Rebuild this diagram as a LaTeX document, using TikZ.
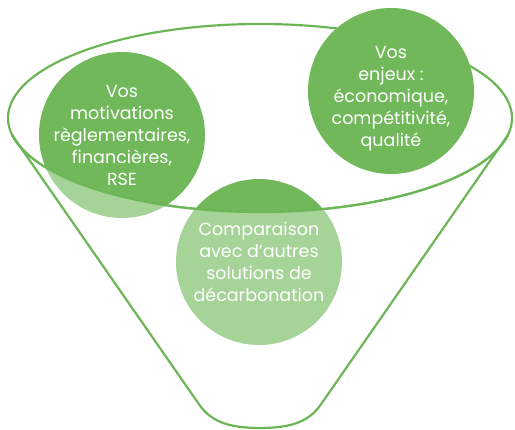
\documentclass[tikz,border=0pt]{standalone}
\usepackage{fontspec}
\setmainfont{Poppins}
\definecolor{dkgreen}{HTML}{70B85A}
\definecolor{lngreen}{HTML}{6DB657}
\begin{document}
\begin{tikzpicture}[x=1pt,y=-1pt,
  bubble/.style={circle, fill=dkgreen, minimum size=166pt, inner sep=0pt},
  btext/.style={text=white, align=center, font=\fontsize{17.5}{22}\selectfont},
  rim/.style={draw=lngreen, line width=2.2pt, line join=round}]
\useasboundingbox (0,0) rectangle (515,430);
% funnel rim (back)
\coordinate (ec) at (260,118);
\draw[rim] (ec) ellipse [x radius=252, y radius=94];
% circles
\node[bubble] (left) at (122,135) {};
\node[bubble] (right) at (391,91) {};
\node[bubble] (mid) at (259,262) {};
% cone corners
\coordinate (tl) at (12,135);
\coordinate (bl) at (199.5,405);
\coordinate (bm) at (260,428);
\coordinate (br) at (320.5,405);
\coordinate (tr) at (508,135);
% translucent front of the cone
\begin{scope}
  \clip (tl) -- (bl) .. controls (212,423) and (232,428) .. (bm)
        .. controls (288,428) and (308,423) .. (br) -- (tr) -- cycle;
  \fill[white, fill opacity=0.38, even odd rule]
        (-10,-10) rectangle (525,440) (ec) ellipse [x radius=252, y radius=94];
\end{scope}
% cone outline and front rim
\draw[rim] (tl) -- (bl) .. controls (212,423) and (232,428) .. (bm)
        .. controls (288,428) and (308,423) .. (br) -- (tr);
\draw[rim] (tr) arc[start angle=10.4, end angle=169.6, x radius=252, y radius=94];
% texts
\node[btext] (lt) at (left.center) {Vos\\motivations\\règlementaires,\\financières,\\RSE};
\node[btext] (rt) at ([yshift=-8pt]right.center) {Vos\\enjeux :\\économique,\\compétitivité,\\qualité};
\node[btext] (mt) at (mid.center) {Comparaison\\avec d’autres\\solutions de\\décarbonation};
\end{tikzpicture}
\end{document}
